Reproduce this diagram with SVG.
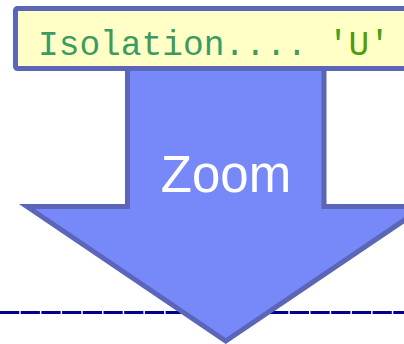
<svg xmlns="http://www.w3.org/2000/svg" width="404" height="344" viewBox="0 0 404 344">
<style>
.edge{stroke:#5b66b9;stroke-width:5;stroke-linejoin:miter;stroke-miterlimit:10}
.mono{font-family:"Liberation Mono","DejaVu Sans Mono",monospace;font-size:34.5px}
.sans{font-family:"Liberation Sans",Arial,sans-serif;font-size:51px;fill:#ffffff}
</style>
<rect width="404" height="344" fill="#ffffff"/>
<g id="connectors">
<line x1="0" y1="312.5" x2="404" y2="312.5" stroke="#00008b" stroke-width="3" stroke-dasharray="19.2 1.5"/>
</g>
<g id="zoom-arrow">
<polygon class="edge" fill="#7788f8" points="127.5,60 324,60 324,206.5 424.5,206.5 225.75,341 27,206.5 127.5,206.5"/>
<text class="sans" x="226" y="192" text-anchor="middle">Zoom</text>
</g>
<g id="isolation-box">
<rect class="edge" x="15.5" y="8.5" width="420" height="60" rx="2" fill="#ffffc6"/>
<text class="mono" x="38" y="55"><tspan fill="#3c9b62">Isolation....</tspan><tspan fill="#4c9e0c"> 'U'</tspan></text>
</g>
</svg>
